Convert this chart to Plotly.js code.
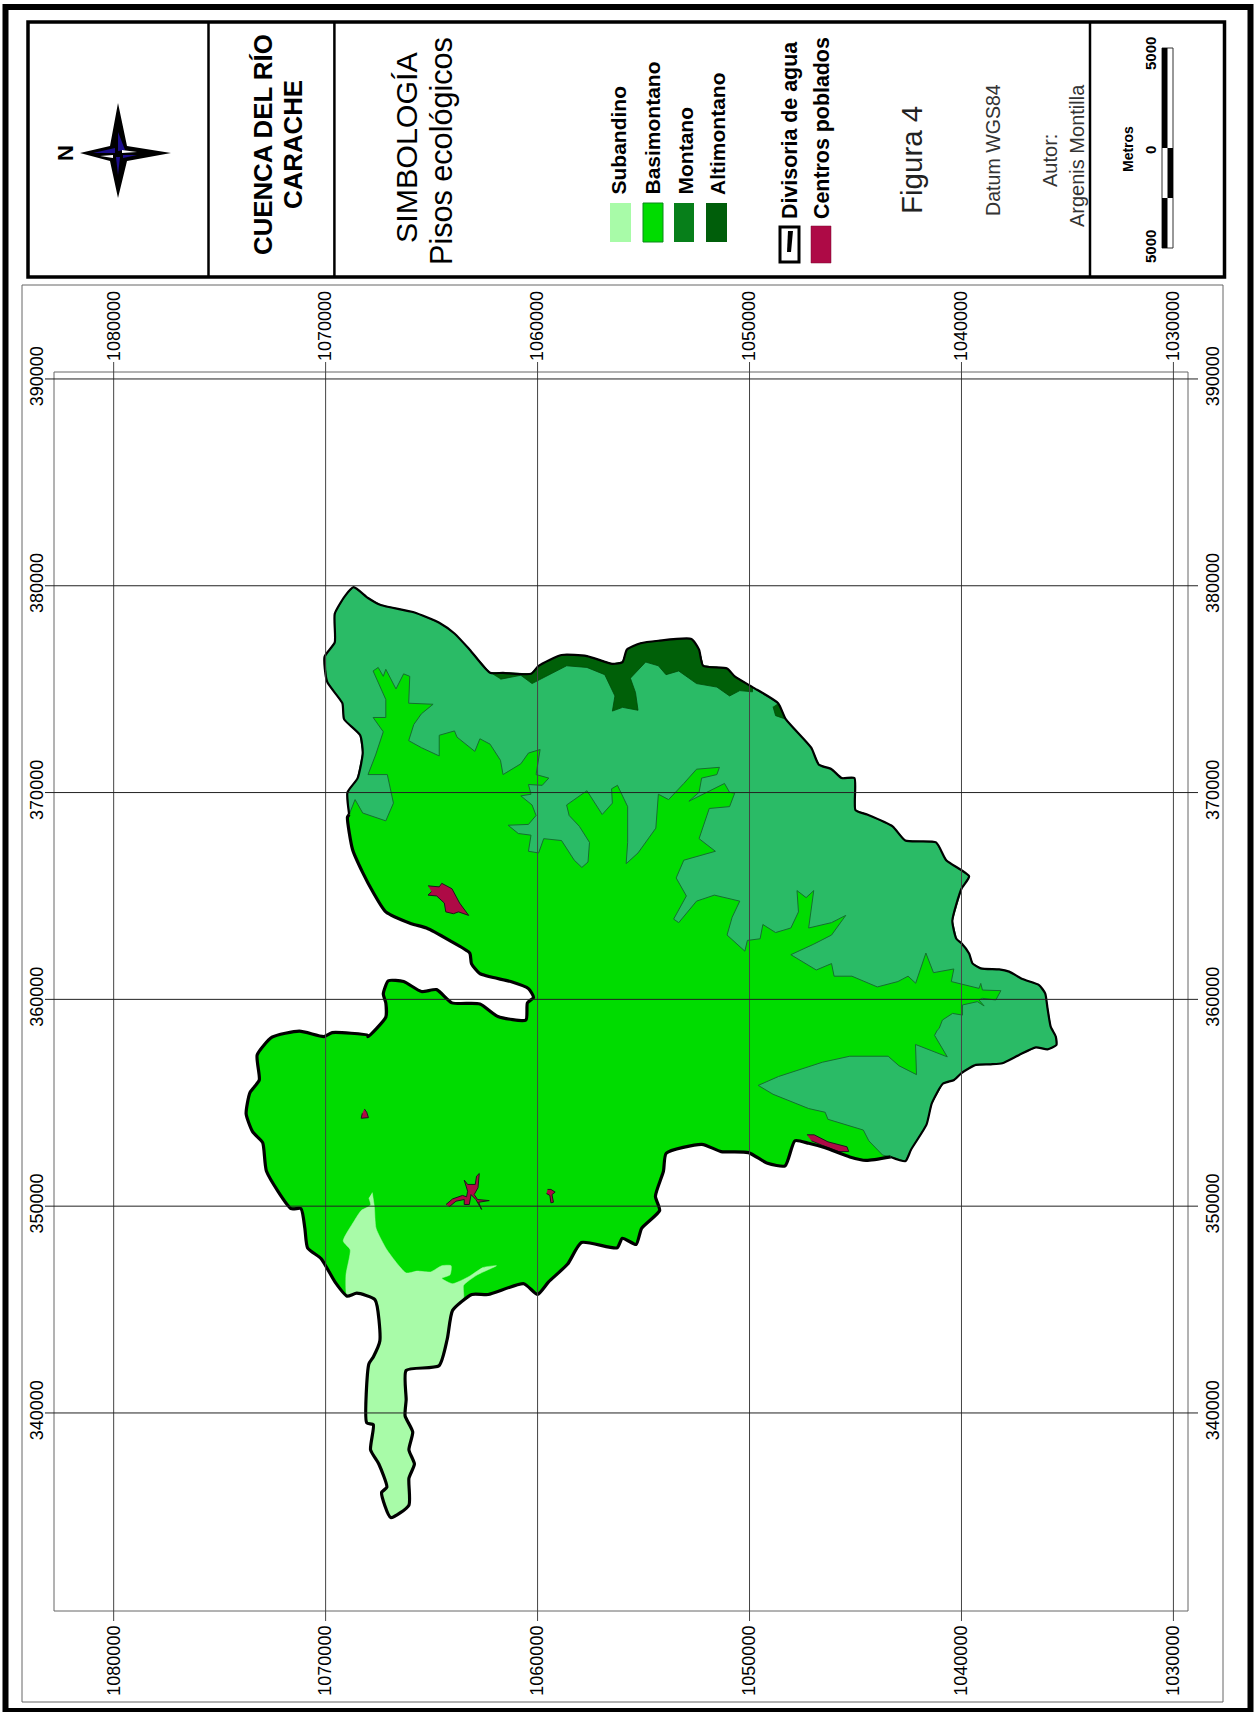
<!DOCTYPE html>
<html><head><meta charset="utf-8">
<script src="https://cdn.plot.ly/plotly-3.0.1.min.js"></script>
<style>html,body{margin:0;padding:0;background:#fff}</style></head>
<body><div id="map" style="width:1257px;height:1712px"></div>
<script>
// ---- Tick values (UTM metres) ----
const northingTicks = [1080000,1070000,1060000,1050000,1040000,1030000];
const eastingTicks  = [390000,380000,370000,360000,350000,340000];

// ---- Digitised map geometry, km (northing N, easting E) ----
// Divide, north-east part: west contact -> tip -> east side -> south contact
const borderA_N = [1068.89,1068.97,1068.49,1068.25,1068.37,1069.13,1069.21,1069.93,1070.05,1069.57,1069.57,1069.09,1068.68,1068.0,1067.40,1065.84,1064.64,1063.92,1063.20,1062.24,1061.63,1060.31,1059.95,1058.87,1057.67,1056.47,1055.99,1055.79,1055.14,1054.30,1052.74,1052.38,1052.19,1051.06,1050.70,1049.86,1048.65,1048.29,1047.09,1046.73,1046.13,1045.65,1045.05,1045.0,1044.45,1043.25,1042.65,1041.2,1040.72,1039.64,1040.0,1040.43,1040.24,1040.0,1039.64,1039.48,1039.09,1038.22,1037.75,1037.12,1036.34,1036.05,1035.94,1035.79,1035.55,1035.52,1035.94,1036.49,1037.28,1038.07,1038.62,1039.32,1039.64,1040.0,1040.35,1040.88,1041.40,1041.65,1042.38,1042.64,1043.34];
const borderA_E = [368.94,370.01,370.70,371.91,372.77,373.55,374.32,375.36,376.57,377.26,378.64,379.5,379.93,379.41,379.07,378.72,378.21,377.69,376.91,375.79,375.79,375.74,376.13,376.65,376.60,376.22,376.31,376.91,377.22,377.34,377.43,376.91,376.13,376.0,375.62,375.10,374.32,373.55,372.17,371.35,371.13,370.70,370.70,369.15,368.94,368.37,367.68,367.59,366.73,365.95,365.35,363.80,362.93,362.71,362.22,361.74,361.50,361.45,361.34,360.98,360.69,360.29,359.57,358.68,358.20,357.79,357.58,357.68,357.31,356.91,356.86,356.83,356.67,356.43,356.10,355.92,354.97,353.94,352.73,352.18,352.38];
// Divide, south side up to the Subandino outlet
const borderB1_N = [1044.50,1045.27,1046.43,1047.21,1047.86,1048.32,1049.15,1050.05,1051.34,1052.25,1053.93,1054.06,1054.44,1054.24,1055.09,1055.35,1056.0,1056.25,1057.93,1058.58,1059.48,1060.0,1060.65,1062.33,1063.1];
const borderB1_E = [352.21,352.38,352.82,353.04,353.16,351.95,352.07,352.59,352.64,352.99,352.56,351.69,350.48,349.79,348.93,348.15,348.45,347.98,348.24,347.2,346.34,345.73,346.25,345.73,345.73];
// Divide around the Subandino tail
const borderC_N = [1064.01,1064.26,1064.65,1066.2,1066.2,1066.25,1065.89,1066.07,1065.81,1066.07,1066.07,1066.93,1067.36,1067.11,1067.49,1067.88,1067.75,1068.06,1067.96,1067.75,1067.44,1067.67,1068.53,1068.99];
const borderC_E = [344.96,343.58,342.28,342.06,340.64,339.86,339.08,338.22,337.53,336.84,335.54,334.94,336.15,336.41,337.53,338.22,339.43,339.52,342.37,342.71,343.49,345.48,345.79,345.65];
// Divide, west side, notch, back to the west contact
const borderB2_N = [1069.56,1070.21,1070.85,1070.98,1071.16,1071.63,1072.79,1072.97,1073.44,1073.75,1073.57,1073.13,1073.23,1072.53,1071.24,1070.08,1069.69,1068.01,1068.0,1067.16,1067.16,1067.28,1067.04,1066.32,1065.48,1064.76,1064.04,1062.72,1061.87,1060.55,1060.48,1060.19,1060.43,1061.27,1062.72,1063.12,1063.2,1064.16,1065.24,1065.96,1067.16,1067.76,1068.25,1068.73,1068.97];
const borderB2_E = [346.34,347.46,347.98,348.93,349.88,349.88,351.69,353.07,353.59,354.46,355.49,356.10,357.31,358.17,358.46,358.20,358.39,358.26,358.19,359.14,359.83,360.26,360.90,360.86,360.38,360.47,359.83,359.78,359.17,359.0,359.83,360.09,360.52,360.86,361.24,361.73,362.24,362.85,363.45,363.66,364.23,365.18,366.13,367.25,368.8];

// Basimontano / Montano boundary, west contact -> south contact
const montanoEdge_N = [1068.89,1068.61,1068.25,1067.16,1066.8,1067.09,1068.0,1067.64,1067.28,1067.76,1067.16,1067.16,1067.76,1067.52,1067.28,1067.16,1066.68,1066.32,1066.03,1066.08,1064.93,1065.48,1065.84,1066.08,1065.48,1064.64,1064.64,1063.92,1063.8,1062.96,1062.72,1062.24,1061.75,1061.63,1060.79,1060.43,1059.88,1060.07,1059.47,1059.78,1060.43,1060.31,1060.79,1060.26,1060.07,1060.43,1061.39,1060.91,1060.31,1060.43,1059.95,1059.71,1058.87,1058.27,1057.91,1057.62,1057.55,1058.03,1058.51,1058.63,1057.67,1056.95,1056.47,1056.51,1056.23,1055.75,1055.75,1055.82,1055.26,1054.42,1054.3,1053.82,1053.1,1052.5,1051.42,1051.54,1052.26,1052.38,1052.86,1051.18,1050.94,1050.7,1050.94,1051.9,1052.38,1051.61,1053.1,1053.46,1052.98,1053.58,1053.34,1052.5,1051.66,1050.46,1050.82,1051.06,1050.22,1050.1,1049.5,1049.37,1048.77,1048.05,1047.69,1047.76,1047.33,1046.97,1047.21,1046.13,1045.46,1046.13,1046.97,1048.05,1046.85,1046.13,1046.01,1045.17,1043.97,1043.0,1042.52,1042.16,1041.68,1041.32,1040.36,1040.48,1039.87,1039.17,1039.09,1039.01,1038.14,1038.38,1039.01,1039.17,1038.93,1039.25,1039.95,1039.95,1040.42,1040.9,1041.05,1041.14,1041.27,1040.67,1042.17,1042.12,1042.95,1043.46,1045.27,1046.56,1048.63,1049.59,1048.89,1047.21,1046.43,1046.3,1044.63,1044.37,1043.72];
const montanoEdge_E = [368.94,369.66,369.01,368.63,369.49,370.87,370.87,371.82,372.94,373.63,373.63,374.50,375.88,376.05,375.62,375.96,375.01,375.74,375.62,374.32,374.27,373.81,373.29,372.51,372.17,371.77,372.77,372.98,372.68,371.99,372.60,372.34,371.56,370.87,371.39,371.91,372.08,370.87,370.70,370.35,370.39,369.92,369.84,369.4,368.89,368.46,368.42,368.02,367.94,367.16,367.08,367.77,367.68,366.73,366.38,366.64,367.59,368.37,368.89,369.4,370.09,368.94,369.49,370.18,370.35,369.32,367.59,366.56,367.08,368.28,369.92,369.66,370.44,371.13,371.22,370.87,370.70,370.01,369.58,370.44,370.01,369.97,369.32,369.23,367.77,367.16,366.73,365.87,365.0,363.88,363.71,364.75,365.04,364.75,363.97,363.11,362.33,362.85,362.93,363.62,363.23,363.45,364.23,365.26,364.92,365.26,363.45,363.71,364.06,363.11,362.67,362.16,361.42,361.73,361.12,361.12,360.60,360.86,361.12,360.78,362.24,361.29,361.47,360.86,360.69,360.53,360.77,360.45,360.42,359.97,360.05,359.97,359.68,359.89,359.73,359.24,359.32,359.0,358.6,358.51,358.26,357.22,357.82,356.36,356.79,357.25,357.25,356.96,356.27,355.84,355.41,354.72,354.54,354.20,353.68,353.16,352.47];

// Altimontano: main strip, and the small patch
const altimontano_N = [1062.24,1061.63,1060.31,1059.95,1058.87,1057.67,1056.47,1055.99,1055.79,1055.14,1054.30,1052.74,1052.38,1052.19,1051.06,1050.70,1049.86,1049.86,1050.46,1050.94,1051.54,1052.5,1053.34,1053.94,1054.30,1054.90,1055.62,1055.38,1055.26,1055.99,1056.47,1056.35,1056.83,1057.67,1058.63,1059.59,1060.26,1060.79,1061.75];
const altimontano_E = [375.79,375.79,375.74,376.13,376.65,376.60,376.22,376.31,376.91,377.22,377.34,377.43,376.91,376.13,376.0,375.62,375.10,374.87,374.93,374.67,375.10,375.27,375.88,375.70,376.13,376.31,375.53,374.84,373.98,374.12,373.94,374.67,375.70,376.05,376.13,375.62,375.27,375.67,375.48];
const altimontanoPatch_N = [1048.65,1048.29,1048.77,1048.89];
const altimontanoPatch_E = [374.32,373.55,373.72,374.15];

// Subandino inner boundary, two stretches either side of the tail
const subandinoA_N = [1067.8,1067.7,1067.62,1067.11,1066.2,1065.68,1065.04,1064.52,1064.08,1064.13,1064.52,1064.01,1063.23,1062.58,1061.94,1062.84,1063.49,1063.49];
const subandinoA_E = [350.66,349.97,348.93,347.89,346.77,346.86,346.82,347.12,347.12,346.68,346.51,346.25,346.6,347.03,347.12,346.68,346.17,345.56];
const subandinoB_N = [1069.04,1068.84,1069.17,1068.66,1068.32,1067.88,1067.96];
const subandinoB_E = [346.68,347.89,348.32,349.27,349.79,350.05,350.40];

// Centros poblados
const town1_N = [1065.17,1064.64,1064.52,1064.04,1063.68,1063.25,1063.73,1063.97,1064.33,1064.4,1064.76,1065.17,1065.0];
const town1_E = [365.49,365.44,365.61,365.35,364.66,364.06,364.23,364.14,364.23,364.66,365.0,365.04,365.21];
const town2_N = [1068.17,1068.06,1067.98,1068.32,1068.27];
const town2_E = [354.70,354.54,354.28,354.25,354.49];
const town3_N = [1064.32,1064.01,1063.54,1063.35,1063.30,1063.46,1063.30,1062.94,1062.88,1062.75,1062.81,1062.99,1062.83,1062.28,1062.78,1062.64,1062.91,1063.14,1063.22,1063.46,1063.46,1063.85,1064.17];
const town3_E = [350.08,350.35,350.52,350.45,350.72,351.26,351.05,351.05,351.45,351.58,350.89,350.56,350.32,350.27,350.19,349.84,350.32,350.56,350.08,350.08,350.32,350.24,349.97];
const town4_N = [1059.53,1059.37,1059.17,1059.32,1059.25,1059.37,1059.42,1059.58];
const town4_E = [350.81,350.81,350.68,350.56,350.19,350.16,350.52,350.61];
const town5_N = [1047.29,1046.95,1046.3,1045.4,1045.32,1045.79,1046.56,1047.08];
const town5_E = [353.45,353.45,353.11,352.87,352.64,352.64,352.94,353.16];

// ---- Legend and header text ----
const legendEco = ["Subandino","Basimontano","Montano","Altimontano"];
const legendOther = ["Divisoria de agua","Centros poblados"];
const scaleLabels = ["5000","0","5000"];

// ---- Styling ----
const C = {sub:'#A8FBA8', basi:'#00DC00', mont:'#2ABB66', alti:'#006008', town:'#AE0A46',
           legMont:'#077F1A', legAlti:'#005E0A'};
const L=45,R=1198,T=362,B=1621;
const X=p=>(p-L)/(R-L), Y=p=>1-(p-T)/(B-T);
const km=a=>a.map(v=>v===null?null:v*1000);
const rev=a=>a.slice().reverse();
const join=(...arrs)=>arrs.reduce((o,a,i)=>i?o.concat([null],a):a.slice(),[]);

const basinN=[...borderA_N,...borderB1_N,...borderC_N,...borderB2_N];
const basinE=[...borderA_E,...borderB1_E,...borderC_E,...borderB2_E];

const SMOOTH={shape:'spline',smoothing:0.55};
function poly(xs,ys,fill,lc,lw,smooth){return {type:'scatter',mode:'lines',x:km(xs),y:km(ys),fill:'toself',fillcolor:fill,
  line:Object.assign({color:lc,width:lw},smooth?SMOOTH:{}),hoverinfo:'skip'};}
function edge(xs,ys,w){return {type:'scatter',mode:'lines',x:km(xs),y:km(ys),line:Object.assign({color:'#000',width:w},SMOOTH),hoverinfo:'skip'};}

const traces=[
  poly(basinN,basinE,C.basi,C.basi,0,true),
  poly([...borderA_N,...rev(montanoEdge_N)],[...borderA_E,...rev(montanoEdge_E)],C.mont,'#14702F',1),
  poly(join(altimontano_N,altimontanoPatch_N),join(altimontano_E,altimontanoPatch_E),C.alti,'#004a08',0.8),
  poly([...subandinoA_N,...borderC_N,...subandinoB_N],[...subandinoA_E,...borderC_E,...subandinoB_E],C.sub,C.sub,0.5,true),
  poly(join(town1_N,town2_N,town3_N,town4_N,town5_N),join(town1_E,town2_E,town3_E,town4_E,town5_E),C.town,'#1a1a1a',1),
  edge(borderA_N,borderA_E,2.2),
  edge([borderA_N[borderA_N.length-1],...borderB1_N,...borderC_N,...borderB2_N,borderA_N[0]],
       [borderA_E[borderA_E.length-1],...borderB1_E,...borderC_E,...borderB2_E,borderA_E[0]],3.2),
  {type:'scatter',x:[null],y:[null],xaxis:'x2',yaxis:'y2',hoverinfo:'skip'}
];

const rect=(x0,y0,x1,y1,o={})=>({type:'rect',xref:'paper',yref:'paper',x0:X(x0),x1:X(x1),y0:Y(y0),y1:Y(y1),
  line:{color:o.lc||'#000',width:o.w===undefined?0:o.w},fillcolor:o.fill||'rgba(0,0,0,0)'});
const seg=(x0,y0,x1,y1,c,w)=>({type:'line',xref:'paper',yref:'paper',x0:X(x0),x1:X(x1),y0:Y(y0),y1:Y(y1),line:{color:c,width:w}});
const path=(pts,fill)=>({type:'path',xref:'paper',yref:'paper',line:{width:0,color:fill},fillcolor:fill,
  path:'M'+pts.map(p=>X(p[0])+','+Y(p[1])).join('L')+'Z'});

const swatchX=[[610,631],[643,663],[674,694],[706,727]];
const swatchC=[C.sub,C.basi,C.legMont,C.legAlti];
const shapes=[
  // frames
  rect(5.5,7,1250.5,1711,{w:6}),
  rect(28,22,1224.5,277,{w:3.5}),
  seg(208.5,22,208.5,277,'#000',2.5),
  seg(334.4,22,334.4,277,'#000',2.5),
  seg(1090,22,1090,277,'#000',2.5),
  rect(22,285,1223,1702,{lc:'#666',w:1}),
  rect(54,372,1188,1611,{lc:'#666',w:1}),
  // grid drawn over the map
  ...northingTicks.map(v=>({type:'line',xref:'x',yref:'paper',x0:v,x1:v,y0:0,y1:1,line:{color:'#444',width:1}})),
  ...eastingTicks.map(v=>({type:'line',xref:'paper',yref:'y',x0:0,x1:1,y0:v,y1:v,line:{color:'#222',width:1}})),
  // legend swatches
  ...swatchX.map((s,i)=>rect(s[0],203,s[1],242,{fill:swatchC[i],lc:i==1?'#0a8a1a':swatchC[i],w:i==1?1:0})),
  rect(780,227,799,262,{w:3}),
  path([[788,231],[793,231],[791,252],[787,252]],'#000'),
  rect(811,226,831,263,{fill:C.town,lc:'#7a0a30',w:0.5}),
  // scale bar
  rect(1162,48,1173,248,{w:1,lc:'#333',fill:'#fff'}),
  rect(1162,48,1167.5,148,{fill:'#000'}),
  rect(1167.5,148,1173,198,{fill:'#000'}),
  rect(1162,198,1167.5,248,{fill:'#000'}),
  // north star
  path([[118,103],[127,146],[171,153],[127,161],[118,198],[110,161],[80,153],[110,146]],'#000'),
  path([[118,132],[125,150],[118,151]],'#1C0E8C'),
  path([[115,148],[115,153],[93,153]],'#1C0E8C'),
  path([[123,155],[137,155],[123,158]],'#1C0E8C'),
  path([[116,157],[120,157],[118,175]],'#1C0E8C'),
  path([[122,150],[137,152],[122,153]],'#fff'),
  path([[100,156],[113,155],[113,158]],'#fff')
];

function txt(text,x,y,size,o={}){return {text:text,xref:'paper',yref:'paper',x:X(x),y:Y(y),showarrow:false,textangle:-90,
  xanchor:'center',yanchor:o.ya||'middle',font:{family:'"Liberation Sans",Arial,sans-serif',size:size,color:o.c||'#000',weight:o.b?700:400}};}
const legendX=[618,652,685,717];
const annotations=[
  txt('N',65,153,22,{b:1}),
  txt('CUENCA DEL RÍO',263,145,25.8,{b:1}),
  txt('CARACHE',293,145,25.8,{b:1}),
  txt('SIMBOLOGÍA',406,147,30.4),
  txt('Pisos ecológicos',441,151,30.6),
  ...legendEco.map((s,i)=>txt(s,legendX[i],197,21,{b:1,ya:'bottom'})),
  txt(legendOther[0],790,221,21.4,{b:1,ya:'bottom'}),
  txt(legendOther[1],822,221,21.4,{b:1,ya:'bottom'}),
  txt('Figura 4',912,160,29.5,{c:'#222'}),
  txt('Datum WGS84',993,150,19.6,{c:'#333'}),
  txt('Autor:',1050,161,20,{c:'#333'}),
  txt('Argenis Montilla',1077,156,20,{c:'#333'}),
  txt('Metros',1128,149,14,{b:1}),
  txt(scaleLabels[0],1150,54,15,{b:1}),
  txt(scaleLabels[1],1150,150,15,{b:1}),
  txt(scaleLabels[2],1150,247,15,{b:1})
];

const tickFont={family:'"Liberation Sans",Arial,sans-serif',size:18,color:'#000'};
const xRange=[1083240,1028840], yRange=[329940,390820];
const xBase={range:xRange,tickmode:'array',tickvals:northingTicks,ticktext:northingTicks.map(String),tickangle:-90,
  tickfont:tickFont,showgrid:false,zeroline:false,showline:false,ticks:'',fixedrange:true};
const yBase={range:yRange,tickmode:'array',tickvals:eastingTicks,ticktext:eastingTicks.map(String),tickangle:-90,
  tickfont:tickFont,showgrid:false,zeroline:false,showline:false,ticks:'',fixedrange:true};

Plotly.newPlot('map',traces,{
  width:1257,height:1712,paper_bgcolor:'#fff',plot_bgcolor:'#fff',showlegend:false,hovermode:false,
  margin:{l:L,r:1257-R,t:T,b:1712-B,pad:0,autoexpand:false},
  xaxis:{...xBase,side:'bottom',anchor:'y'},
  xaxis2:{...xBase,side:'top',overlaying:'x',anchor:'y'},
  yaxis:{...yBase,side:'left',anchor:'x',ticklabelstandoff:-3},
  yaxis2:{...yBase,side:'right',overlaying:'y',anchor:'x',ticklabelstandoff:2},
  shapes:shapes,annotations:annotations
},{staticPlot:true,displayModeBar:false});
</script></body></html>
